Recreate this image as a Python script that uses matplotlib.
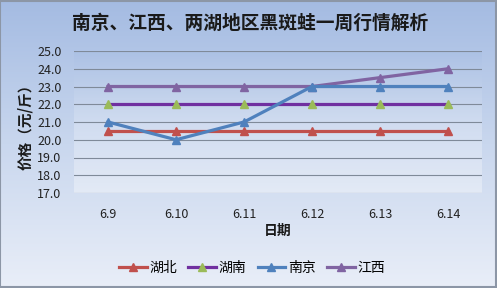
import numpy as np
import matplotlib
matplotlib.use("Agg")
import matplotlib.pyplot as plt
from matplotlib.colors import LinearSegmentedColormap

plt.rcParams['font.family'] = ['Noto Sans CJK SC', 'DejaVu Sans']

dates = ["6.9", "6.10", "6.11", "6.12", "6.13", "6.14"]
hubei = [20.5, 20.5, 20.5, 20.5, 20.5, 20.5]
hunan = [22.0, 22.0, 22.0, 22.0, 22.0, 22.0]
nanjing = [21.0, 20.0, 21.0, 23.0, 23.0, 23.0]
jiangxi = [23.0, 23.0, 23.0, 23.0, 23.5, 24.0]
yticks = [17.0, 18.0, 19.0, 20.0, 21.0, 22.0, 23.0, 24.0, 25.0]

W, H = 497, 288
fig = plt.figure(figsize=(W/100, H/100), dpi=100)

# background gradient
bg = fig.add_axes([0, 0, 1, 1], zorder=-10)
cmap = LinearSegmentedColormap.from_list("bg", ["#a4bbe2", "#c9d7ee", "#e9eef8"])
grad = np.linspace(0, 1, 256).reshape(-1, 1)
bg.imshow(grad, aspect='auto', cmap=cmap, extent=[0, 1, 0, 1], origin='upper')
bg.set_xlim(0, 1); bg.set_ylim(0, 1)
bg.axis('off')
bg.add_patch(plt.Rectangle((0.001, 0.002), 0.997, 0.995, fill=False, edgecolor='#8c96a6', lw=1.5))

ax = fig.add_axes([74/W, 1 - 193/H, 408/W, 142/H])
ax.patch.set_alpha(0)
cmap2 = LinearSegmentedColormap.from_list("pa", ["#a9bfe4", "#d9e3f3", "#eef2fa"])
ax.imshow(grad, aspect='auto', cmap=cmap2, extent=[-0.5, 5.5, 17, 25], origin='upper', zorder=0, alpha=0.6)

x = np.arange(len(dates))
ax.plot(x, hubei, color='#c0504d', lw=2.3, marker='^', ms=6, mfc='#c0504d', mec='#c0504d', label='湖北', zorder=3)
ax.plot(x, hunan, color='#7030a0', lw=2.3, marker='^', ms=6, mfc='#9bbb59', mec='#9bbb59', label='湖南', zorder=3)
ax.plot(x, nanjing, color='#4f81bd', lw=2.3, marker='^', ms=6, mfc='#4f81bd', mec='#4f81bd', label='南京', zorder=4)
ax.plot(x, jiangxi, color='#8064a2', lw=2.3, marker='^', ms=6, mfc='#8064a2', mec='#8064a2', label='江西', zorder=3)

ax.set_xlim(-0.5, 5.5)
ax.set_ylim(17, 25)
ax.set_yticks(yticks)
ax.set_yticklabels([f"{v:.1f}" for v in yticks], fontsize=9, color='#222222')
ax.set_xticks(x)
ax.set_xticklabels(dates, fontsize=9, color='#222222')
ax.yaxis.grid(True, color='#7f8a99', lw=0.8)
ax.set_axisbelow(True)
for s in ax.spines.values():
    s.set_visible(False)
ax.tick_params(length=0, pad=9)
ax.tick_params(axis='x', pad=11)

fig.text(250/W, 1 - 23/H, "南京、江西、两湖地区黑斑蛙一周行情解析", ha='center', va='center',
         fontsize=13.5, fontweight='bold', color='#1a1a1a')
fig.text(25/W, 1 - 123/H, "价格（元/斤）", rotation=90, ha='center', va='center',
         fontsize=10.5, fontweight='bold', color='#1a1a1a')
fig.text(278/W, 1 - 231/H, "日期", ha='center', va='center', fontsize=10, fontweight='bold', color='#1a1a1a')

leg = fig.legend(loc='center', bbox_to_anchor=(252/W, 1 - 268/H), ncol=4, frameon=False,
                 fontsize=10, handlelength=2.0, columnspacing=0.8, handletextpad=0.2)

fig.savefig("out.png", dpi=100)
